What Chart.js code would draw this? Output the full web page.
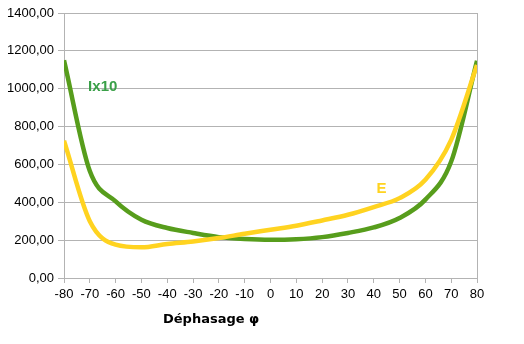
<!DOCTYPE html>
<html>
<head>
<meta charset="utf-8">
<script src="https://cdn.jsdelivr.net/npm/chart.js@4"></script>
<style>
  html, body { margin: 0; padding: 0; background: #fff; }
  #wrap { width: 524px; height: 344px; }
</style>
</head>
<body>
<div id="wrap"><canvas id="graphe"></canvas></div>
<script>
const phi = [-80, -70, -60, -50, -40, -30, -20, -10, 0, 10, 20, 30, 40, 50, 60, 70, 80];
const ix10 = [1150, 565, 405, 308, 264, 238, 216, 206, 202, 205, 216, 238, 267, 317, 414, 615, 1148];
const e = [725, 300, 176, 162, 180, 193, 211, 234, 255, 276, 304, 334, 375, 422, 519, 730, 1125];

const grid = '#b3b3b3';
const font = { family: "'Liberation Sans', Arial, sans-serif", size: 13 };

// étiquettes des courbes + titre de l'axe
const textes = {
  id: 'textes',
  afterDraw(chart) {
    const c = chart.ctx, x = chart.scales.x, y = chart.scales.y;
    c.save();
    c.textAlign = 'center';
    c.textBaseline = 'middle';
    c.font = "bold 15px 'Liberation Sans', Arial";
    c.fillStyle = '#3aa048';
    c.fillText('Ix10', x.getPixelForValue(-65), y.getPixelForValue(1010));
    c.fillStyle = '#ffd320';
    c.fillText('E', x.getPixelForValue(43), y.getPixelForValue(470));
    c.fillStyle = '#000';
    c.font = "bold 13px 'DejaVu Sans', 'Liberation Sans'";
    c.fillText('Déphasage φ', x.getPixelForValue(-23), 320);
    c.restore();
  }
};

new Chart(document.getElementById('graphe'), {
  type: 'line',
  data: {
    labels: phi,
    datasets: [
      {
        label: 'E',
        data: phi.map((p, i) => ({ x: p, y: e[i] })),
        borderColor: '#ffd320',
        borderWidth: 4.5,
        pointRadius: 0,
        cubicInterpolationMode: 'monotone'
      },
      {
        label: 'Ix10',
        data: phi.map((p, i) => ({ x: p, y: ix10[i] })),
        borderColor: '#579d1c',
        borderWidth: 4.5,
        pointRadius: 0,
        cubicInterpolationMode: 'monotone'
      }
    ]
  },
  options: {
    responsive: true,
    maintainAspectRatio: false,
    animation: false,
    layout: { padding: { left: 0, right: 47, top: 13, bottom: 0 } },
    scales: {
      x: {
        type: 'linear',
        min: -80,
        max: 80,
        ticks: { stepSize: 10, color: '#000', font: font, padding: 4, maxRotation: 0 },
        grid: {
          color: ctx => ctx.tick && ctx.tick.value === 80 ? grid : 'transparent',
          tickColor: grid,
          tickLength: 5
        },
        border: { color: grid },
        afterFit: s => { s.height = 66; }
      },
      y: {
        min: 0,
        max: 1400,
        ticks: {
          stepSize: 200,
          color: '#000',
          font: font,
          padding: 4,
          callback: v => v.toFixed(2).replace('.', ',')
        },
        grid: { color: grid, tickLength: 6 },
        border: { color: grid },
        afterFit: s => { s.width = 64; }
      }
    },
    plugins: {
      legend: { display: false },
      tooltip: { enabled: false }
    }
  },
  plugins: [textes]
});
</script>
</body>
</html>
